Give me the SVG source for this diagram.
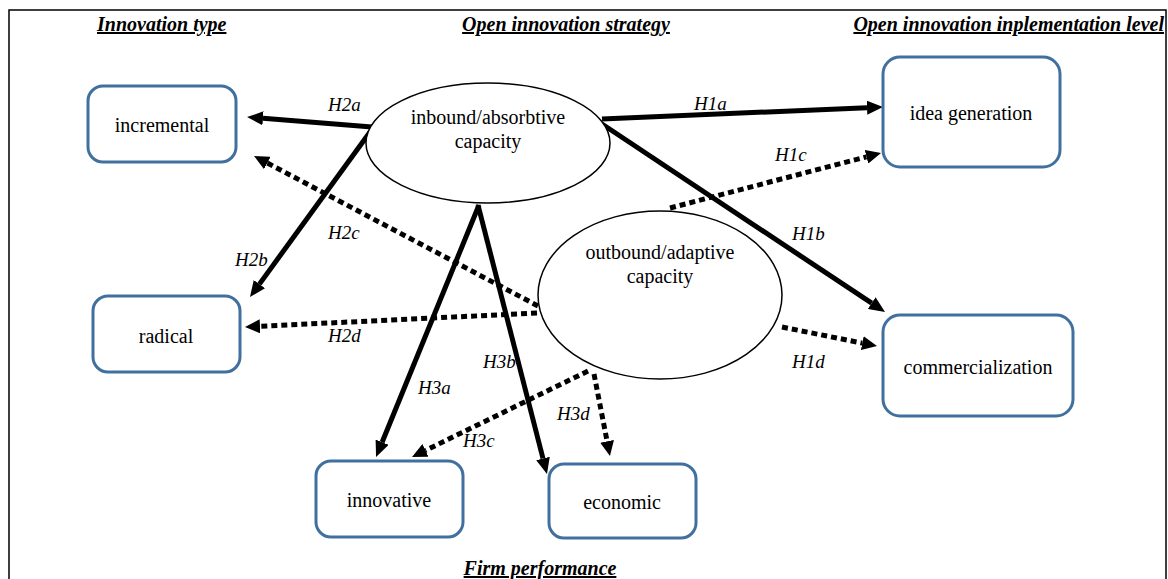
<svg xmlns="http://www.w3.org/2000/svg" width="1168" height="579" viewBox="0 0 1168 579">
<style>
.box{fill:#fff;stroke:#41709F;stroke-width:3}
.ell{fill:#fff;stroke:#000;stroke-width:1.5}
.t{font-family:"Liberation Serif","Times New Roman",serif;font-size:20px;fill:#000;text-anchor:middle}
.h{font-family:"Liberation Serif","Times New Roman",serif;font-size:20px;font-weight:bold;font-style:italic;text-decoration:underline;fill:#000}
.lb{font-family:"Liberation Serif","Times New Roman",serif;font-size:19px;font-style:italic;fill:#000}
.solid{fill:none;stroke:#000;stroke-width:5;marker-end:url(#ah)}
.dot{fill:none;stroke:#000;stroke-width:5;stroke-dasharray:6 4;marker-end:url(#ahd)}
</style>
<defs>
<marker id="ah" markerUnits="userSpaceOnUse" markerWidth="16" markerHeight="14" viewBox="0 0 16 14" refX="0" refY="7" orient="auto"><path d="M0,0 L16,7 L0,14 z" fill="#000"/></marker>
<marker id="ahd" markerUnits="userSpaceOnUse" markerWidth="15" markerHeight="14" viewBox="0 0 15 14" refX="0" refY="7" orient="auto"><path d="M0,0 L15,7 L0,14 z" fill="#000"/></marker>
</defs>
<rect x="0" y="0" width="1168" height="579" fill="#fff"/>
<path d="M9,579 L9,10 L1166,10 L1166,579" fill="none" stroke="#000" stroke-width="1.5"/>

<text class="h" x="97" y="31">Innovation type</text>
<text class="h" x="566" y="31" text-anchor="middle">Open innovation strategy</text>
<text class="h" x="1164" y="31" text-anchor="end">Open innovation inplementation level</text>
<text class="h" x="540" y="575" text-anchor="middle">Firm performance</text>

<g id="connectors">
<path class="solid" d="M372,127 L263,118.3"/>
<path class="solid" d="M370,132 L259.4,284.1"/>
<path class="solid" d="M602,119 L867,107.7"/>
<path class="solid" d="M602,124 L871.7,303.2"/>
<path class="solid" d="M479,205 L382.1,442.2"/>
<path class="solid" d="M478,205 L543,458.5"/>
<path class="dot" d="M670,208 L866.5,156.8"/>
<path class="dot" d="M782,327 L862.3,343.1"/>
<path class="dot" d="M538,306 L267.3,163"/>
<path class="dot" d="M537,313 L260,326.3"/>
<path class="dot" d="M588,371 L425.5,450.4"/>
<path class="dot" d="M594,374 L607.1,441.3"/>
</g>

<g id="inbound"><ellipse class="ell" cx="488" cy="143" rx="122" ry="60"/><text class="t" x="488" y="124">inbound/absorbtive</text><text class="t" x="488" y="148">capacity</text></g>
<g id="outbound"><ellipse class="ell" cx="660" cy="295" rx="122" ry="84"/><text class="t" x="660" y="259">outbound/adaptive</text><text class="t" x="660" y="283">capacity</text></g>

<g id="incremental"><rect class="box" x="88" y="86" width="148" height="76" rx="15"/><text class="t" x="162" y="132">incremental</text></g>
<g id="radical"><rect class="box" x="93" y="296" width="147" height="76" rx="15"/><text class="t" x="166" y="343">radical</text></g>
<g id="idea"><rect class="box" x="883" y="57" width="177" height="110" rx="17"/><text class="t" x="971" y="120">idea generation</text></g>
<g id="commercialization"><rect class="box" x="883" y="315" width="190" height="101" rx="17"/><text class="t" x="978" y="374">commercialization</text></g>
<g id="innovative"><rect class="box" x="316" y="461" width="147" height="76" rx="15"/><text class="t" x="389" y="507">innovative</text></g>
<g id="economic"><rect class="box" x="549" y="464" width="147" height="74" rx="15"/><text class="t" x="622" y="509">economic</text></g>

<g id="labels">
<text class="lb" x="328" y="111">H2a</text>
<text class="lb" x="694" y="110">H1a</text>
<text class="lb" x="775" y="161">H1c</text>
<text class="lb" x="792" y="240">H1b</text>
<text class="lb" x="792" y="368">H1d</text>
<text class="lb" x="328" y="239">H2c</text>
<text class="lb" x="235" y="266">H2b</text>
<text class="lb" x="328" y="342">H2d</text>
<text class="lb" x="483" y="368">H3b</text>
<text class="lb" x="418" y="394">H3a</text>
<text class="lb" x="463" y="447">H3c</text>
<text class="lb" x="557" y="420">H3d</text>
</g>
</svg>
